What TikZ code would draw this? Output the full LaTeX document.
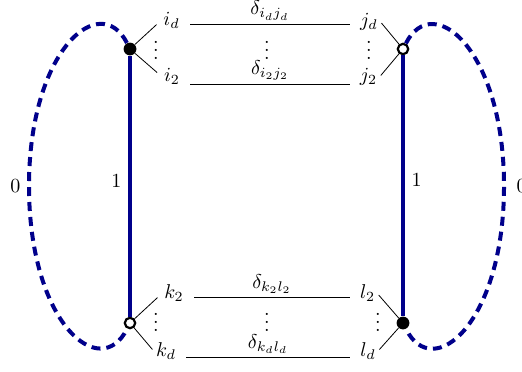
\documentclass[tikz,border=0pt]{standalone}
\usepackage{amsmath,amssymb}
\usetikzlibrary{positioning}
\definecolor{navy}{RGB}{0,0,139}
\tikzset{
  fullv/.style={circle,fill=black,inner sep=0pt,minimum size=6.4pt},
  openv/.style={circle,draw=black,fill=white,line width=1.1pt,inner sep=0pt,minimum size=5.2pt},
  idx/.style={inner sep=1pt},
  edgeone/.style={navy,line width=2pt},
  edgezero/.style={navy,line width=2pt,dash pattern=on 4.5pt off 3pt},
  weight/.style={text=black},
  dlabel/.style={midway,above,inner sep=1.5pt},
}

\begin{document}
\begin{tikzpicture}[x=0.5pt,y=-0.5pt]
\useasboundingbox (0,0) rectangle (522,371);
\node[fullv] (tl) at (130,49) {};
\node[openv] (bl) at (130,323) {};
\node[openv] (tr) at (403,49) {};
\node[fullv] (br) at (403,323) {};

\node[idx] (id) at (171.5,20.5) {$i_d$};
\node[idx] (i2) at (172,76.5) {$i_2$};
\node[idx] (jd) at (369,21.5) {$j_d$};
\node[idx] (j2) at (368.5,77) {$j_2$};
\node[idx] (k2) at (174,293.5) {$k_2$};
\node[idx] (kd) at (166,351) {$k_d$};
\node[idx] (l2) at (367.5,293.5) {$l_2$};
\node[idx] (ld) at (368,351) {$l_d$};

\node (vtl) at (156,44) {$\vdots$};
\node (vtm) at (267,44) {$\vdots$};
\node (vtr) at (369,44) {$\vdots$};
\node (vbl) at (156,316) {$\vdots$};
\node (vbm) at (267,316) {$\vdots$};
\node (vbr) at (378,316) {$\vdots$};

\draw[shorten >=3pt] (tl) -- (id.west);
\draw[shorten >=3pt] (tl) -- (i2.west);
\draw[shorten >=1pt] (tr) -- (jd.east);
\draw[shorten >=1pt] (tr) -- (j2.east);
\draw[shorten >=3pt] (bl) -- (k2.west);
\draw[shorten >=1pt] (bl) -- (kd.west);
\draw[shorten >=1pt] (br) -- (l2.east);
\draw[shorten >=1pt] (br) -- (ld.east);

\draw ([xshift=4pt]id.east |- 0,24) -- ([xshift=-4pt]jd.west |- 0,24) node[dlabel] (did) {$\delta_{i_dj_d}$};
\draw ([xshift=4pt]i2.east |- 0,84) -- ([xshift=-4pt]j2.west |- 0,84) node[dlabel] (di2) {$\delta_{i_2j_2}$};
\draw ([xshift=4pt]k2.east |- 0,297) -- ([xshift=-4pt]l2.west |- 0,297) node[dlabel] (dk2) {$\delta_{k_2l_2}$};
\draw ([xshift=4pt]kd.east |- 0,357) -- ([xshift=-4pt]ld.west |- 0,357) node[dlabel] (dkd) {$\delta_{k_dl_d}$};

\draw[edgeone] (tl) -- (bl) node[weight,pos=0.48,left] (wl) {$1$};
\draw[edgeone] (tr) -- (br) node[weight,pos=0.48,right] (wr) {$1$};

\draw[edgezero] (tl) .. controls (100,-10) and (29,50) .. (29,186) node[weight,left] (zl) {$0$}
  .. controls (29,323) and (100,383) .. (bl);
\draw[edgezero] (tr) .. controls (433,-10) and (504,50) .. (504,186) node[weight,right,xshift=2pt] (zr) {$0$}
  .. controls (504,323) and (433,383) .. (br);
\end{tikzpicture}
\end{document}
